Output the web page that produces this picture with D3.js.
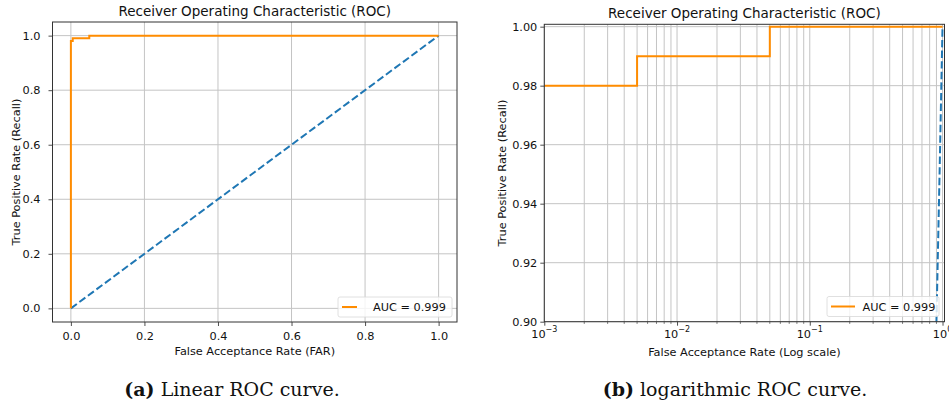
<!DOCTYPE html>
<html>
<head>
<meta charset="utf-8">
<script src="https://cdn.jsdelivr.net/npm/d3@7"></script>
<style>
  body { margin: 0; background: #fff; }
  svg text { font-family: "DejaVu Sans", sans-serif; fill: #111; }
  .caption text { font-family: "DejaVu Serif", serif; }
</style>
</head>
<body>
<svg id="fig" width="949" height="412"></svg>
<script>
// ROC curve
var far    = [0, 0,    0.005, 0.005, 0.05, 0.05, 1.0];
var recall = [0, 0.98, 0.98,  0.99,  0.99, 1.0,  1.0];

// chance diagonal
var chanceFar    = [0, 0.5, 0.9, 0.95, 1.0];
var chanceRecall = [0, 0.5, 0.9, 0.95, 1.0];

var linTicks  = [0, 0.2, 0.4, 0.6, 0.8, 1.0];
var logYTicks = [0.90, 0.92, 0.94, 0.96, 0.98, 1.00];
var logXTicks = [-3, -2, -1, 0];   // exponents of 10

var aucLabel = "AUC = 0.999";
var titleText = "Receiver Operating Characteristic (ROC)";
var captions = [["(a)", " Linear ROC curve."], ["(b)", " logarithmic ROC curve."]];

var svg = d3.select('#fig');

var orange = '#ff8c00', blue = '#1f77b4', gridCol = '#c4c4c4';
var fs = 11.3;

function drawPanel(cfg) {
	var x = cfg.x, y = cfg.y;
	var r = cfg.box;
	var g = svg.append('g');

	var clipId = 'clip' + cfg.id;
	g.append('clipPath').attr('id', clipId)
		.append('rect').attr('x', r.left).attr('y', r.top)
		.attr('width', r.right - r.left).attr('height', r.bottom - r.top);

	// grid
	var grid = g.append('g');
	grid.selectAll('line.gx')
		.data(cfg.xGrid)
		.enter().append('line')
		.attr('x1', function(d) { return x(d); }).attr('x2', function(d) { return x(d); })
		.attr('y1', r.top).attr('y2', r.bottom)
		.attr('stroke', gridCol).attr('stroke-width', 1);
	grid.selectAll('line.gy')
		.data(cfg.yTicks)
		.enter().append('line')
		.attr('y1', function(d) { return y(d); }).attr('y2', function(d) { return y(d); })
		.attr('x1', r.left).attr('x2', r.right)
		.attr('stroke', gridCol).attr('stroke-width', 1);

	var xv = function(v) { return x(Math.max(v, cfg.xMinClamp)); };

	var plot = g.append('g').attr('clip-path', 'url(#' + clipId + ')');
	var roc = d3.line()
		.x(function(d) { return xv(d[0]); })
		.y(function(d) { return y(d[1]); });

	plot.append('path')
		.datum(d3.zip(chanceFar, chanceRecall))
		.attr('d', roc)
		.attr('fill', 'none').attr('stroke', blue).attr('stroke-width', 2)
		.attr('stroke-dasharray', '7.4,3.2');
	plot.append('path')
		.datum(d3.zip(far, recall))
		.attr('d', roc)
		.attr('fill', 'none').attr('stroke', orange).attr('stroke-width', 2);

	// axes
	var xAxis = d3.axisBottom(x).tickSizeOuter(0).tickSize(4).tickPadding(6);
	if (cfg.log) {
		xAxis.tickValues(logXTicks.map(function(e) { return Math.pow(10, e); })).tickFormat('');
	} else {
		xAxis.tickValues(linTicks).tickFormat(d3.format('.1f'));
	}
	var gx = g.append('g').attr('transform', 'translate(0,' + r.bottom + ')').call(xAxis);
	var gy = g.append('g').attr('transform', 'translate(' + r.left + ',0)')
		.call(d3.axisLeft(y).tickValues(cfg.yTicks).tickFormat(d3.format(cfg.yFmt))
			.tickSizeOuter(0).tickSize(4).tickPadding(cfg.yPad));
	[gx, gy].forEach(function(a) {
		a.select('.domain').remove();
		a.selectAll('line').attr('stroke', '#222').attr('stroke-width', 0.8);
		a.selectAll('text').attr('font-size', fs).attr('fill', '#111')
			.style('font-family', '"DejaVu Sans", sans-serif');
	});

	if (cfg.log) {
		// minor ticks
		gx.selectAll('line.minor')
			.data(cfg.xGrid.filter(function(d) { return logXTicks.indexOf(Math.round(Math.log10(d) * 1000) / 1000) < 0; }))
			.enter().append('line')
			.attr('x1', function(d) { return x(d); }).attr('x2', function(d) { return x(d); })
			.attr('y1', 0).attr('y2', 2.2)
			.attr('stroke', '#222').attr('stroke-width', 0.6);
		var lab = g.append('g').selectAll('text')
			.data(logXTicks)
			.enter().append('text')
			.attr('x', function(e) { return x(Math.pow(10, e)); })
			.attr('y', r.bottom + 16)
			.attr('text-anchor', 'middle')
			.attr('font-size', fs);
		lab.append('tspan').text('10');
		lab.append('tspan').attr('dy', -5.5).attr('font-size', 8)
			.text(function(e) { return e < 0 ? '\u2212' + (-e) : String(e); });
	}

	// frame
	g.append('rect')
		.attr('x', r.left).attr('y', r.top)
		.attr('width', r.right - r.left).attr('height', r.bottom - r.top)
		.attr('fill', 'none').attr('stroke', '#333').attr('stroke-width', 1);

	// title and labels
	g.append('text').attr('x', (r.left + r.right) / 2).attr('y', cfg.titleY)
		.attr('text-anchor', 'middle').attr('font-size', 13.5).text(titleText);
	g.append('text').attr('x', (r.left + r.right) / 2).attr('y', cfg.xLabelY)
		.attr('text-anchor', 'middle').attr('font-size', fs).text(cfg.xLabel);
	g.append('text')
		.attr('transform', 'translate(' + cfg.yLabelX + ',' + ((r.top + r.bottom) / 2) + ') rotate(-90)')
		.attr('text-anchor', 'middle').attr('font-size', fs).text('True Positive Rate (Recall)');

	// legend
	var L = cfg.legend;
	var lg = g.append('g').attr('transform', 'translate(' + L.x + ',' + L.y + ')');
	lg.append('rect').attr('width', L.w).attr('height', 20).attr('rx', 2)
		.attr('fill', '#fff').attr('fill-opacity', 0.8)
		.attr('stroke', '#d8d8d8').attr('stroke-width', 0.8);
	lg.append('line').attr('x1', 4).attr('x2', 4 + L.line).attr('y1', 10).attr('y2', 10)
		.attr('stroke', orange).attr('stroke-width', 2);
	lg.append('text').attr('x', L.text).attr('y', 14).attr('font-size', fs).text(aucLabel);
}

// (a) linear
var boxA = { left: 52.5, right: 457, top: 22, bottom: 322 };
drawPanel({
	id: 'a', log: false, box: boxA,
	x: d3.scaleLinear().domain([-0.05, 1.05]).range([boxA.left, boxA.right]),
	y: d3.scaleLinear().domain([-0.05, 1.05]).range([boxA.bottom, boxA.top]),
	xGrid: linTicks, yTicks: linTicks, yFmt: '.1f', xMinClamp: -1, yPad: 8,
	xLabel: 'False Acceptance Rate (FAR)', yLabelX: 19.5, titleY: 16, xLabelY: 355,
	legend: { x: 338, y: 297, w: 114, line: 15, text: 35 }
});

// (b) logarithmic
var boxB = { left: 544.3, right: 944.5, top: 24.3, bottom: 321.7 };
var minorGrid = [];
logXTicks.forEach(function(e) {
	if (e === 0) { minorGrid.push(1); return; }
	for (var k = 1; k <= 9; k++) minorGrid.push(k * Math.pow(10, e));
});
drawPanel({
	id: 'b', log: true, box: boxB,
	x: d3.scaleLog().domain([1e-3, 1.035]).range([boxB.left, boxB.right]),
	y: d3.scaleLinear().domain([0.9, 1.0008]).range([boxB.bottom, boxB.top]),
	xGrid: minorGrid, yTicks: logYTicks, yFmt: '.2f', xMinClamp: 1e-9, yPad: 3,
	xLabel: 'False Acceptance Rate (Log scale)', yLabelX: 505.5, titleY: 18, xLabelY: 356,
	legend: { x: 827, y: 296.5, w: 112, line: 24, text: 35.5 }
});

// captions
var cap = svg.append('g').attr('class', 'caption').selectAll('text')
	.data(captions)
	.enter().append('text')
	.attr('x', function(d, i) { return i === 0 ? 232 : 735; })
	.attr('y', 396)
	.attr('text-anchor', 'middle')
	.attr('font-size', 19);
cap.append('tspan').attr('font-weight', 'bold').text(function(d) { return d[0]; });
cap.append('tspan').text(function(d) { return d[1]; });
</script>
</body>
</html>
